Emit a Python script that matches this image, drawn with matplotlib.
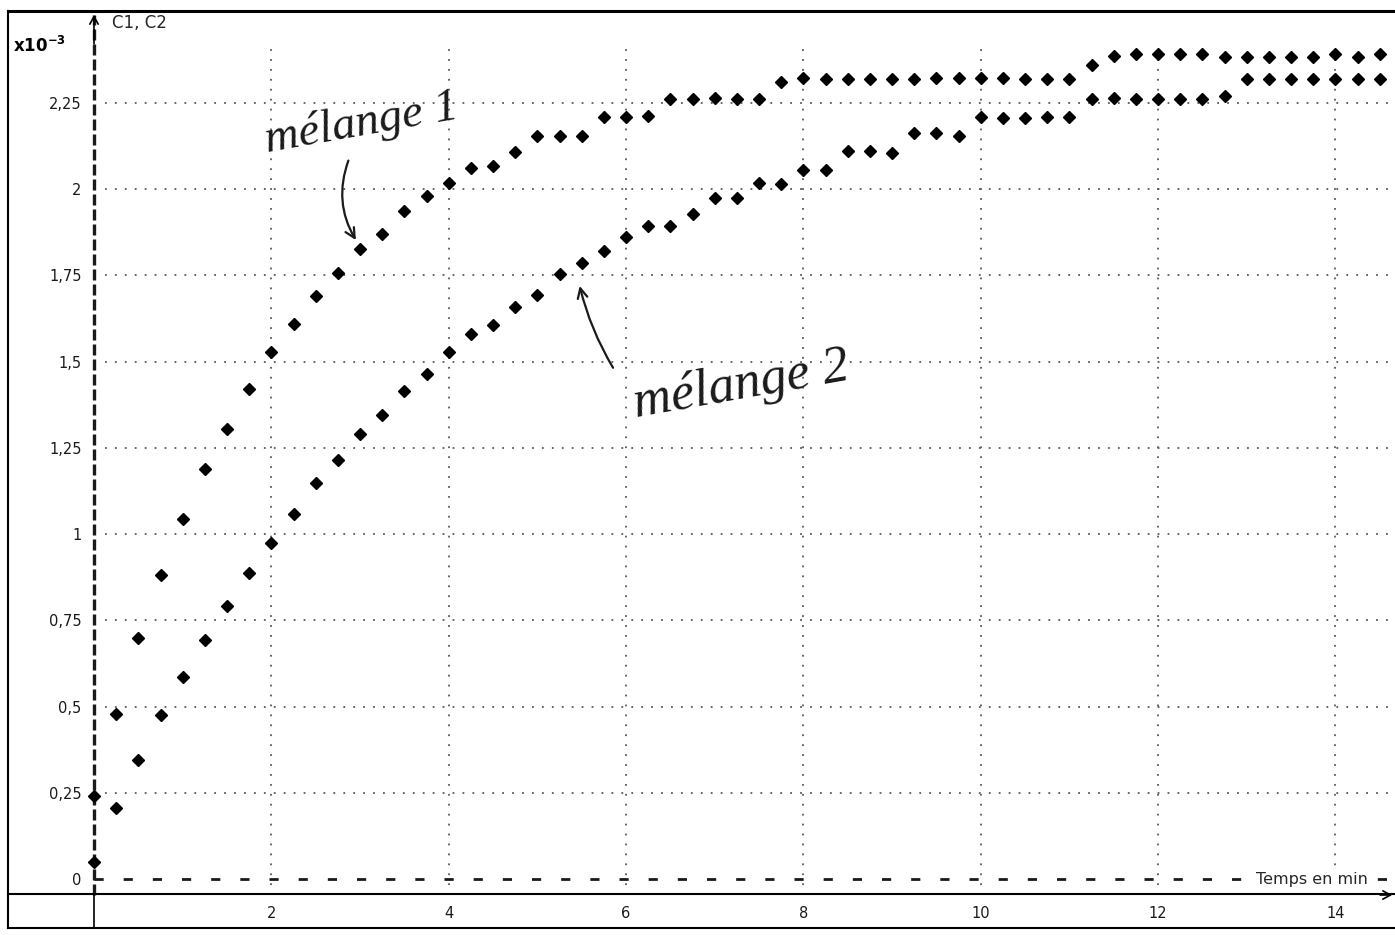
import matplotlib
matplotlib.use('Agg')
import matplotlib.pyplot as plt
from matplotlib.lines import Line2D

# temps (min) et concentrations (x10^-3 mol/L)
times = [0, 0.25, 0.5, 0.75, 1.0, 1.25, 1.5, 1.75, 2.0, 2.25, 2.5, 2.75,
         3.0, 3.25, 3.5, 3.75, 4.0, 4.25, 4.5, 4.75, 5.0, 5.25, 5.5, 5.75,
         6.0, 6.25, 6.5, 6.75, 7.0, 7.25, 7.5, 7.75, 8.0, 8.25, 8.5, 8.75,
         9.0, 9.25, 9.5, 9.75, 10.0, 10.25, 10.5, 10.75, 11.0, 11.25, 11.5, 11.75,
         12.0, 12.25, 12.5, 12.75, 13.0, 13.25, 13.5, 13.75, 14.0, 14.25, 14.5]

c1 = [0.24, 0.48, 0.70, 0.88, 1.045, 1.19, 1.305, 1.42, 1.527, 1.61, 1.69, 1.757,
      1.825, 1.87, 1.935, 1.98, 2.018, 2.062, 2.066, 2.108, 2.155, 2.155, 2.155, 2.21,
      2.21, 2.212, 2.262, 2.262, 2.265, 2.26, 2.262, 2.31, 2.322, 2.32, 2.318, 2.318,
      2.318, 2.32, 2.322, 2.322, 2.322, 2.322, 2.318, 2.318, 2.318, 2.36, 2.385, 2.39,
      2.39, 2.39, 2.39, 2.383, 2.383, 2.383, 2.383, 2.383, 2.39, 2.383, 2.39]

c2 = [0.05, 0.205, 0.345, 0.475, 0.586, 0.693, 0.791, 0.886, 0.975, 1.058, 1.147, 1.216,
      1.289, 1.345, 1.414, 1.464, 1.528, 1.58, 1.606, 1.658, 1.693, 1.753, 1.786, 1.82,
      1.861, 1.893, 1.893, 1.927, 1.974, 1.974, 2.017, 2.014, 2.055, 2.055, 2.11, 2.11,
      2.105, 2.162, 2.162, 2.155, 2.208, 2.205, 2.205, 2.208, 2.208, 2.262, 2.265, 2.26,
      2.262, 2.262, 2.262, 2.27, 2.32, 2.32, 2.32, 2.32, 2.32, 2.32, 2.32]

xticks = [2, 4, 6, 8, 10, 12, 14]
yticks = [0, 0.25, 0.5, 0.75, 1, 1.25, 1.5, 1.75, 2, 2.25]
ytick_labels = ['0', '0,25', '0,5', '0,75', '1', '1,25', '1,5', '1,75', '2', '2,25']

W, H = 1395, 935


def px(x):
    return x / W


def py(y):
    return 1 - y / H


fig = plt.figure(figsize=(W / 100, H / 100), dpi=100)
ax = fig.add_axes([px(94), py(895), (W - 94) / W, (895 - 12) / H])
xmax = (W - 94) / 88.67
ymin, ymax = -0.046, 2.513
ax.set_xlim(0, xmax)
ax.set_ylim(ymin, ymax)
for s in ax.spines.values():
    s.set_visible(False)

# grille pointillée
grid_style = dict(colors='0.35', linestyles=[(0, (1, 4.5))], linewidth=1.3)
ax.vlines(xticks, ymin, 2.42, **grid_style)
ax.hlines(yticks[1:], 0.12, xmax, **grid_style)

# axe des ordonnées en tirets + ligne du zéro
ax.plot([0, 0], [ymin, ymax - 0.01], color='0.1', lw=2.4,
        linestyle=(0, (3.3, 1.2)), clip_on=False)
ax.axhline(0, color='0.1', lw=2.0, linestyle=(0, (3.3, 7.2)))
ax.annotate('', xy=(0, ymax), xytext=(0, ymax - 0.1),
            arrowprops=dict(arrowstyle='->,head_length=0.55,head_width=0.3', lw=1.2, color='k'),
            annotation_clip=False)
ax.annotate('', xy=(xmax, ymin), xytext=(xmax - 0.2, ymin),
            arrowprops=dict(arrowstyle='->,head_length=0.55,head_width=0.3', lw=1.2, color='k'),
            annotation_clip=False)

# points
ax.plot(times, c1, 'D', color='black', ms=6, clip_on=False)
ax.plot(times, c2, 'D', color='black', ms=6, clip_on=False)

ax.set_xticks(xticks)
ax.set_xticklabels([str(t) for t in xticks])
ax.set_yticks(yticks)
ax.set_yticklabels(ytick_labels)
ax.tick_params(axis='x', length=0, pad=8, labelsize=10.5, labelcolor='0.1')
ax.tick_params(axis='y', length=0, pad=9, labelsize=10.5, labelcolor='0.1')

# cadre
frame = dict(color='black', lw=1.5)
fig.add_artist(Line2D([px(8), px(W)], [py(11), py(11)], color='black', lw=2.2))
fig.add_artist(Line2D([px(8), px(W)], [py(894), py(894)], **frame))
fig.add_artist(Line2D([px(8), px(W)], [py(928), py(928)], **frame))
fig.add_artist(Line2D([px(8), px(8)], [py(11), py(928)], **frame))
fig.add_artist(Line2D([px(94), px(94)], [py(894), py(928)], color='black', lw=1.2))

# textes
fig.text(px(13), py(46), r'$\mathbf{x10^{-3}}$', fontsize=12, va='center', ha='left')
ax.text(0.2, 2.48, 'C1, C2', fontsize=12, va='center', ha='left', color='0.15')
ax.text(14.37, 0, 'Temps en min', fontsize=11.5, va='center', ha='right', color='0.15',
        bbox=dict(facecolor='white', edgecolor='none', pad=2))

# annotations manuscrites
hand = dict(family='Liberation Serif', style='italic', color='#1a1a1a',
            ha='center', va='center', rotation_mode='anchor')
ax.text(3.02, 2.19, 'mélange 1', fontsize=34, rotation=10, **hand)
ax.text(7.3, 1.43, 'mélange 2', fontsize=38, rotation=10, **hand)
ax.annotate('', xy=(2.97, 1.845), xytext=(2.88, 2.09),
            arrowprops=dict(arrowstyle='->,head_length=0.7,head_width=0.35', lw=1.6,
                            color='#1a1a1a', connectionstyle='arc3,rad=0.25'))
ax.annotate('', xy=(5.47, 1.727), xytext=(5.87, 1.475),
            arrowprops=dict(arrowstyle='->,head_length=0.7,head_width=0.35', lw=1.6,
                            color='#1a1a1a', connectionstyle='arc3,rad=-0.08'))

fig.savefig('out.png', dpi=100)
